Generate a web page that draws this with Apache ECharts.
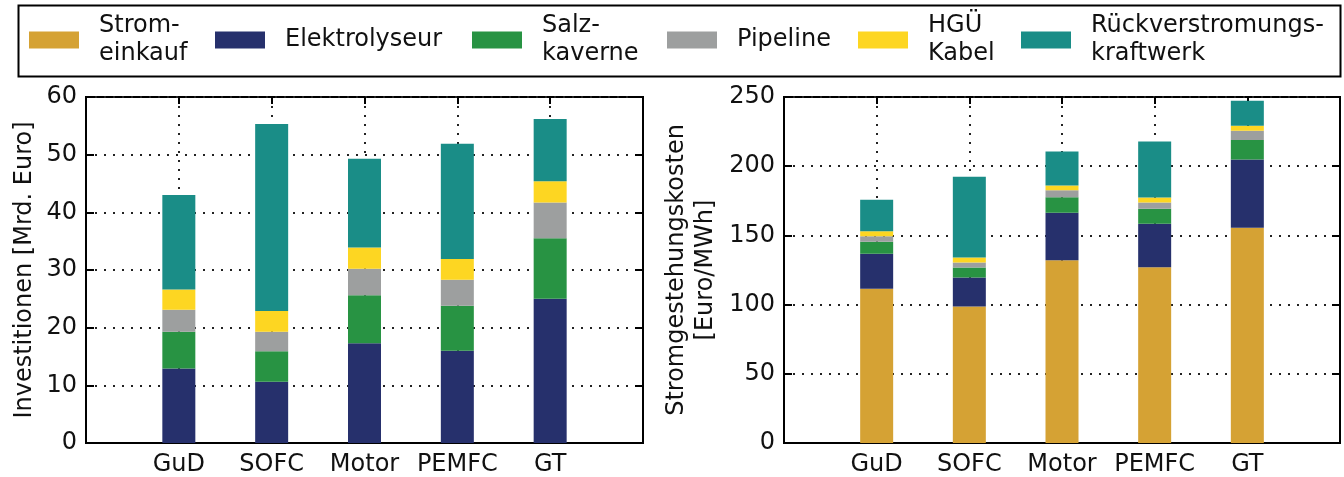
<!DOCTYPE html>
<html>
<head>
<meta charset="utf-8">
<script src="https://cdn.jsdelivr.net/npm/echarts@6/dist/echarts.min.js"></script>
<style>
    html, body { margin: 0; padding: 0; background: #fff; }
    /* chart size */
    #chart { width: 1344px; height: 477px; }
</style>
</head>
<body>
<div id="chart"></div>
<script>
    // categories
    var categories = ['GuD', 'SOFC', 'Motor', 'PEMFC', 'GT'];

    // left chart: Investitionen [Mrd. Euro]
    var invElektrolyseur = [12.9, 10.6, 17.3, 16.0, 25.0];
    var invSalzkaverne = [6.4, 5.3, 8.3, 7.8, 10.5];
    var invPipeline = [3.8, 3.4, 4.6, 4.5, 6.2];
    var invHgue = [3.5, 3.6, 3.7, 3.6, 3.7];
    var invRueck = [16.4, 32.4, 15.4, 20.0, 10.8];

    // right chart: Stromgestehungskosten [Euro/MWh]
    var costStrom = [111.5, 98.6, 132.0, 126.9, 155.5];
    var costElektrolyseur = [25.2, 21.0, 34.4, 31.5, 49.3];
    var costSalzkaverne = [8.7, 7.2, 11.2, 10.8, 14.2];
    var costPipeline = [4.0, 3.6, 5.1, 4.6, 6.7];
    var costHgue = [3.6, 3.6, 3.4, 3.6, 3.6];
    var costRueck = [22.8, 58.4, 24.5, 40.4, 18.0];

    var seriesNames = ['Stromeinkauf', 'Elektrolyseur', 'Salzkaverne', 'Pipeline', 'HGÜ Kabel', 'Rückverstromungskraftwerk'];
    var legendLabels = ['Strom-\neinkauf', 'Elektrolyseur', 'Salz-\nkaverne', 'Pipeline', 'HGÜ\nKabel', 'Rückverstromungs-\nkraftwerk'];
    var colors = ['#d5a234', '#26306c', '#289343', '#9d9f9f', '#fdd622', '#1a8d87'];

    var font = 'DejaVu Sans';
    var fontSize = 24;
    var textColor = '#111';

    // the x range runs from one slot before the first to one slot after the last category
    var axisCats = [''].concat(categories, ['']);
    function pad(values) {
        return ['-'].concat(values, ['-']);
    }

    var gridLine = { show: true, lineStyle: { color: '#222', width: 2, type: [2, 7] } };

    function bottomX(gridIndex) {
        return {
            type: 'category', gridIndex: gridIndex, data: axisCats, boundaryGap: false,
            axisLine: { show: true, onZero: false, lineStyle: { color: '#000', width: 2 } },
            axisTick: { show: false },
            axisLabel: { color: textColor, fontFamily: font, fontSize: fontSize, margin: 10, interval: 0 },
            splitLine: gridLine
        };
    }
    function topX(gridIndex) {
        return {
            type: 'category', gridIndex: gridIndex, data: axisCats, boundaryGap: false, position: 'top',
            axisLine: { show: false, onZero: false },
            axisTick: { show: true, inside: true, length: 7, interval: 0, lineStyle: { color: '#000', width: 2 } },
            axisLabel: { show: false },
            splitLine: { show: false }
        };
    }
    function leftY(gridIndex, max, interval, name, nameGap) {
        return {
            type: 'value', gridIndex: gridIndex, min: 0, max: max, interval: interval,
            name: name, nameLocation: 'middle', nameGap: nameGap,
            nameTextStyle: { color: textColor, fontFamily: font, fontSize: fontSize, lineHeight: 29 },
            axisLine: { show: true, onZero: false, lineStyle: { color: '#000', width: 2 } },
            axisTick: { show: true, inside: true, length: 8, lineStyle: { color: '#000', width: 2 } },
            axisLabel: { color: textColor, fontFamily: font, fontSize: fontSize, margin: 9 },
            splitLine: gridLine
        };
    }
    function rightY(gridIndex, max, interval) {
        return {
            type: 'value', gridIndex: gridIndex, min: 0, max: max, interval: interval, position: 'right',
            axisLine: { show: true, onZero: false, lineStyle: { color: '#000', width: 2 } },
            axisTick: { show: true, inside: true, length: 8, lineStyle: { color: '#000', width: 2 } },
            axisLabel: { show: false },
            splitLine: { show: false }
        };
    }

    function bar(name, values, color, xIdx, yIdx, stack) {
        return {
            name: name, type: 'bar', stack: stack,
            xAxisIndex: xIdx, yAxisIndex: yIdx,
            barWidth: 33,
            data: pad(values),
            itemStyle: { color: color }
        };
    }

    var invData = [null, invElektrolyseur, invSalzkaverne, invPipeline, invHgue, invRueck];
    var costData = [costStrom, costElektrolyseur, costSalzkaverne, costPipeline, costHgue, costRueck];

    var series = [];
    seriesNames.forEach(function (n, i) {
        if (invData[i]) series.push(bar(n, invData[i], colors[i], 0, 0, 'inv'));
    });
    seriesNames.forEach(function (n, i) {
        series.push(bar(n, costData[i], colors[i], 2, 2, 'cost'));
    });

    // one legend per entry, so each can sit where it does in the original
    var legendX = [29, 215, 472, 667, 858, 1021];
    var legends = seriesNames.map(function (n, i) {
        var twoLines = legendLabels[i].indexOf('\n') >= 0;
        return {
            data: [n],
            left: legendX[i],
            top: twoLines ? 12 : 26,
            padding: 0,
            icon: 'rect',
            itemWidth: 50,
            itemHeight: 17,
            selectedMode: false,
            formatter: function () { return legendLabels[i]; },
            textStyle: { color: textColor, fontFamily: font, fontSize: fontSize, lineHeight: 28, padding: [0, 0, 0, 15] }
        };
    });

    var myChart = echarts.init(document.getElementById('chart'));
    var option = {
        animation: false,
        backgroundColor: '#fff',
        graphic: [{
            type: 'rect',
            shape: { x: 18.5, y: 5.5, width: 1322, height: 71 },
            style: { fill: 'none', stroke: '#000', lineWidth: 2 },
            silent: true
        }],
        legend: legends,
        grid: [
            { left: 86, right: 701, top: 97, bottom: 34, show: true, borderColor: '#000', borderWidth: 2, backgroundColor: 'transparent' },
            { left: 784, right: 4, top: 97, bottom: 34, show: true, borderColor: '#000', borderWidth: 2, backgroundColor: 'transparent' }
        ],
        xAxis: [bottomX(0), topX(0), bottomX(1), topX(1)],
        yAxis: [
            leftY(0, 60, 10, 'Investitionen [Mrd. Euro]', 47),
            rightY(0, 60, 10),
            leftY(1, 250, 50, 'Stromgestehungskosten\n[Euro/MWh]', 64),
            rightY(1, 250, 50)
        ],
        series: series
    };
    myChart.setOption(option);
</script>
</body>
</html>
